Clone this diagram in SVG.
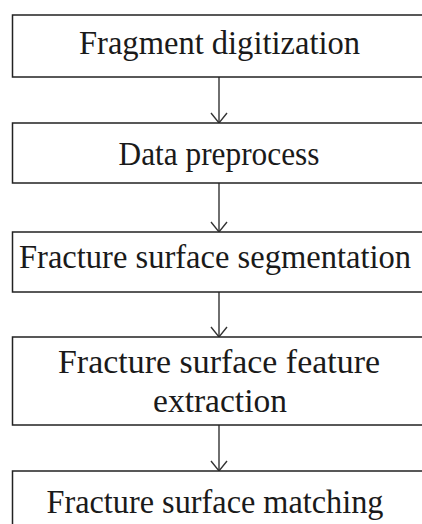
<svg xmlns="http://www.w3.org/2000/svg" width="422" height="524" viewBox="0 0 422 524">
<defs>
<style>
.box{fill:#fff;stroke:#222;stroke-width:1.5}
.t{font-family:"Liberation Serif","DejaVu Serif",serif;font-size:34px;fill:#1a1a1a;text-anchor:middle}
.c{stroke:#333;stroke-width:1.4;fill:none}
</style>
<marker id="ah" markerWidth="14" markerHeight="20" refX="11" refY="9" markerUnits="userSpaceOnUse" orient="auto" viewBox="0 0 14 20">
<path d="M1,1 L11,9 L1,17" fill="none" stroke="#333" stroke-width="1.4"/>
</marker>
</defs>
<rect width="422" height="524" fill="#fff"/>
<g id="connectors">
<line class="c" x1="219" y1="77" x2="219" y2="123" marker-end="url(#ah)"/>
<line class="c" x1="219" y1="183" x2="219" y2="232" marker-end="url(#ah)"/>
<line class="c" x1="219" y1="292" x2="219" y2="337" marker-end="url(#ah)"/>
<line class="c" x1="219" y1="425" x2="219" y2="471" marker-end="url(#ah)"/>
</g>
<g id="n1">
<rect class="box" x="12.5" y="15" width="430" height="62"/>
<text class="t" x="219.5" y="54" textLength="281" lengthAdjust="spacingAndGlyphs">Fragment digitization</text>
</g>
<g id="n2">
<rect class="box" x="12.5" y="123" width="430" height="60"/>
<text class="t" x="219" y="165" textLength="201" lengthAdjust="spacingAndGlyphs">Data preprocess</text>
</g>
<g id="n3">
<rect class="box" x="12.5" y="232" width="430" height="60"/>
<text class="t" x="215" y="268" textLength="392" lengthAdjust="spacingAndGlyphs">Fracture surface segmentation</text>
</g>
<g id="n4">
<rect class="box" x="12.5" y="337" width="430" height="88"/>
<text class="t" x="219" y="373" textLength="322" lengthAdjust="spacingAndGlyphs">Fracture surface feature</text>
<text class="t" x="220" y="412" textLength="134" lengthAdjust="spacingAndGlyphs">extraction</text>
</g>
<g id="n5">
<rect class="box" x="12.5" y="471" width="430" height="80"/>
<text class="t" x="215" y="513" textLength="337" lengthAdjust="spacingAndGlyphs">Fracture surface matching</text>
</g>
</svg>
